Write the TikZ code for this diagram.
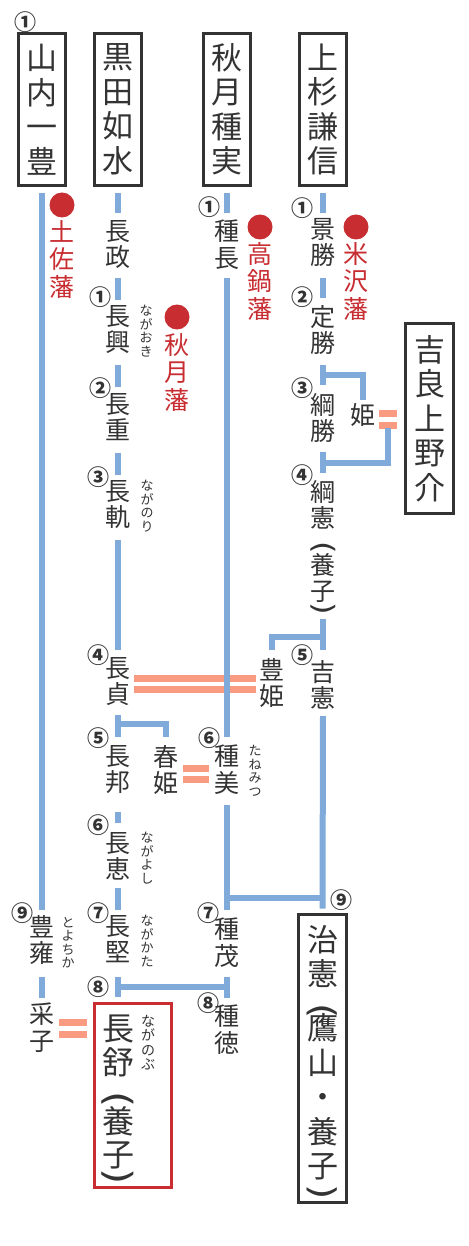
\documentclass[tikz,border=0pt]{standalone}
\usepackage{fontspec}
\usepackage{graphicx}
\newfontfamily\cjk{Noto Sans CJK JP}
\newfontfamily\djv{DejaVu Sans}
% vertical parentheses: #1 font size, #2 vertical shift
\newcommand\vpo[2]{\smash{\raisebox{#2}{\djv\fontsize{#1}{#1}\selectfont\rotatebox[origin=c]{-90}{\scalebox{1.15}[1]{(}}}}}
\newcommand\vpc[2]{\smash{\raisebox{#2}{\djv\fontsize{#1}{#1}\selectfont\rotatebox[origin=c]{-90}{\scalebox{1.15}[1]{)}}}}}
\definecolor{txt}{RGB}{51,51,51}
\definecolor{lblue}{RGB}{128,170,218}
\definecolor{lpink}{RGB}{248,155,128}
\definecolor{hred}{RGB}{200,45,50}
\begin{document}
\begin{tikzpicture}[x=1pt,y=-1pt,
 nm/.style={font=\cjk\fontsize{25}{26.5}\selectfont, text=txt, align=center, inner sep=0pt, anchor=north},
 big/.style={font=\cjk\fontsize{31}{34.5}\selectfont, text=txt, align=center, inner sep=0pt},
 bign/.style={font=\cjk\fontsize{32}{33.5}\selectfont, text=txt, align=center, inner sep=0pt, anchor=north},
 han/.style={font=\cjk\fontsize{25}{27.5}\selectfont, text=hred, align=center, inner sep=0pt, anchor=north},
 yomi/.style={font=\cjk\fontsize{13}{13.5}\selectfont, text=txt, align=center, inner sep=0pt, anchor=north},
 num/.style={font=\cjk\bfseries\fontsize{22}{22}\selectfont, text=txt, inner sep=0pt},
 kbox/.style={draw=txt, line width=3pt, inner sep=0pt, minimum width=47pt},
 rbx/.style={draw=hred, line width=3pt, inner sep=0pt},
 bl/.style={lblue, line width=6pt},
 pk/.style={lpink, line width=7pt},
 dot/.style={fill=hred}]
\useasboundingbox[fill=white] (0,0) rectangle (468,1246);

% top boxes
\node[kbox, big, minimum height=152pt] (yamauchi) at (42,109.5) {山\\内\\一\\豊};
\node[kbox, big, minimum height=152pt] (kuroda) at (118,109.5) {黒\\田\\如\\水};
\node[kbox, big, minimum height=152pt] (akizuki) at (227,109.5) {秋\\月\\種\\実};
\node[kbox, big, minimum height=152pt] (uesugi) at (323,109.5) {上\\杉\\謙\\信};
\node[kbox, big, minimum width=48pt, minimum height=190pt] (kira) at (429.5,418.5) {吉\\良\\上\\野\\介};
\node[kbox, minimum width=48pt, minimum height=288pt] (harubox) at (322.5,1058.5) {};
\node[big, anchor=north] (haruno) at (322.5,925) {治\\憲\\[-15pt]\vpo{34}{-16.3pt}\\鷹\\山\\・\\養\\子\\[-17.25pt]\vpc{34}{-7.5pt}};
\node[rbx, minimum width=77pt, minimum height=184pt] (rbox) at (133,1095.5) {};
\coordinate (rtop) at ([yshift=5.5pt]rbox.north);

% column 1
\node[nm] (toyo) at (42,915) {豊\\雍};
\node[nm] (uneko) at (42,1003) {采\\子};
% column 2
\node[nm] (masa) at (118,220) {長\\政};
\node[nm] (oki) at (118,305) {長\\興};
\node[nm] (shige) at (118,393) {長\\重};
\node[nm] (nori) at (118,480) {長\\軌};
\node[nm] (sada) at (118,657) {長\\貞};
\node[nm] (kuni) at (118,745) {長\\邦};
\node[nm] (yoshi) at (118,832) {長\\恵};
\node[nm] (kata) at (118,915) {長\\堅};
\node[bign] (nobu) at (118,1015) {長\\舒\\[-8.2pt]\vpo{36}{-10.9pt}\\養\\子\\[-16.75pt]\vpc{36}{-4.3pt}};
% column 3
\node[nm] (tnaga) at (227,220) {種\\長};
\node[nm] (tmitsu) at (227,745) {種\\美};
\node[nm] (tshige) at (227,918) {種\\茂};
\node[nm] (tnori) at (227,1005) {種\\徳};
% column 4
\node[nm] (kage) at (323,218) {景\\勝};
\node[nm] (sadak) at (323,305) {定\\勝};
\node[nm] (tsunak) at (323,393) {綱\\勝};
\node[nm] (tsunan) at (323,480) {綱\\憲\\[-6.5pt]\vpo{28}{-8.5pt}\\養\\子\\[-13.25pt]\vpc{28}{-3.2pt}};
\node[nm] (yoshin) at (323,660) {吉\\憲};
% wives
\node[nm] (toyohime) at (272,658) {豊\\姫};
\node[nm] (haruhime) at (166,745) {春\\姫};
\node[nm] (hime) at (363,403) {姫};

% readings
\node[yomi] (ynagaoki) at (146,305) {な\\が\\お\\き};
\node[yomi] (ynaganori) at (147,480) {な\\が\\の\\り};
\node[yomi] (ynagayoshi) at (147,832) {な\\が\\よ\\し};
\node[yomi] (ynagakata) at (147,915) {な\\が\\か\\た};
\node[yomi, font=\cjk\fontsize{14}{14.5}\selectfont] (ynaganobu) at (148,1015) {な\\が\\の\\ぶ};
\node[yomi] (ytanemitsu) at (255,745) {た\\ね\\み\\つ};
\node[yomi] (ytoyochika) at (68,917) {と\\よ\\ち\\か};

% domains
\fill[dot] (62,205) circle[radius=12.5pt];
\fill[dot] (260,227) circle[radius=12.5pt];
\fill[dot] (356,227) circle[radius=12.5pt];
\fill[dot] (177,317) circle[radius=12.5pt];
\node[han] (tosa) at (62,220) {土\\佐\\藩};
\node[han] (takanabe) at (260,242) {高\\鍋\\藩};
\node[han] (yonezawa) at (356,242) {米\\沢\\藩};
\node[han] (akizukihan) at (177,333) {秋\\月\\藩};

% marriages
\draw[pk] ([xshift=16pt,yshift=-21pt]sada.north) -- ([xshift=-16pt,yshift=-20pt]toyohime.north);
\draw[pk] ([xshift=16pt,yshift=-32pt]sada.north) -- ([xshift=-16pt,yshift=-31pt]toyohime.north);
\draw[pk] ([xshift=17pt,yshift=-23pt]haruhime.north) -- ([xshift=-18pt,yshift=-23pt]tmitsu.north);
\draw[pk] ([xshift=17pt,yshift=-34pt]haruhime.north) -- ([xshift=-18pt,yshift=-34pt]tmitsu.north);
\draw[pk] ([xshift=17pt,yshift=-19pt]uneko.north) -- ([xshift=-31pt,yshift=-7pt]nobu.north);
\draw[pk] ([xshift=17pt,yshift=-31pt]uneko.north) -- ([xshift=-31pt,yshift=-19pt]nobu.north);
\draw[pk] ([xshift=16pt,yshift=-10pt]hime.north) -- ([xshift=-7.5pt,yshift=5.5pt]kira.west);
\draw[pk] ([xshift=16pt,yshift=-22pt]hime.north) -- ([xshift=-7.5pt,yshift=-6.5pt]kira.west);

% lineage lines
\draw[bl] ([yshift=-6.5pt]yamauchi.south) -- ([yshift=5pt]toyo.north);
\draw[bl] ([yshift=-62pt]toyo.north) -- ([yshift=5pt]uneko.north);

\draw[bl] ([yshift=-6.5pt]kuroda.south) -- ([yshift=7pt]masa.north);
\draw[bl] ([yshift=-58pt]masa.north) -- ([yshift=5pt]oki.north);
\draw[bl] ([yshift=-60pt]oki.north) -- ([yshift=6pt]shige.north);
\draw[bl] ([yshift=-60pt]shige.north) -- ([yshift=5pt]nori.north);
\draw[bl] ([yshift=-60pt]nori.north) -- ([yshift=7pt]sada.north);
\draw[bl] ([yshift=-58pt]sada.north) -- ([yshift=8pt]kuni.north);
\draw[bl] ([yshift=-67pt]sada.north) -| ([yshift=8pt]haruhime.north);
\draw[bl] ([yshift=-67pt]kuni.north) -- ([yshift=9pt]yoshi.north);
\draw[bl] ([yshift=-56pt]yoshi.north) -- ([yshift=5pt]kata.north);
\draw[bl] ([yshift=-62pt]kata.north) -- (kata.north |- rtop);
\draw[bl] ([yshift=-72pt]kata.north) -- ([yshift=-69pt]tshige.north);

\draw[bl] ([yshift=-6.5pt]akizuki.south) -- ([yshift=7pt]tnaga.north);
\draw[bl] ([yshift=-58pt]tnaga.north) -- ([yshift=8pt]tmitsu.north);
\draw[bl] ([yshift=-60pt]tmitsu.north) -- ([yshift=8pt]tshige.north);
\draw[bl] ([yshift=-59pt]tshige.north) -- ([yshift=7pt]tnori.north);
\draw[bl] ([yshift=-153pt]tmitsu.north) -- ([yshift=-238pt]yoshin.north);

\draw[bl] ([yshift=-6.5pt]uesugi.south) -- ([yshift=5pt]kage.north);
\draw[bl] ([yshift=-60pt]kage.north) -- ([yshift=7pt]sadak.north);
\draw[bl] ([yshift=-60pt]sadak.north) -- ([yshift=8pt]tsunak.north);
\draw[bl] ([yshift=-70pt]sadak.north) -| ([yshift=3pt]hime.north);
\draw[bl] ([yshift=-59pt]tsunak.north) -- ([yshift=7pt]tsunan.north);
\draw[bl] ([yshift=-70pt]tsunak.north) -| ([xshift=-16.5pt,yshift=-9.5pt]kira.west);
\draw[bl] ([yshift=-139pt]tsunan.north) -- ([yshift=10pt]yoshin.north);
\draw[bl] ([yshift=-157pt]tsunan.north) -| ([yshift=8pt]toyohime.north);
\draw[bl] ([yshift=-56pt]yoshin.north) -- ([yshift=4.5pt]harubox.north);

% generation numbers
\node[num] (g0) at (25,22) {①};
\node[num] (k1) at (100,297) {①};
\node[num] (k2) at (100,388) {②};
\node[num] (k3) at (98,477) {③};
\node[num] (k4) at (98,655) {④};
\node[num] (k5) at (98,738) {⑤};
\node[num] (k6) at (98,825) {⑥};
\node[num] (k7) at (98,913) {⑦};
\node[num] (k8) at (98,987) {⑧};
\node[num] (a1) at (209,207) {①};
\node[num] (a6) at (209,738) {⑥};
\node[num] (a7) at (208,913) {⑦};
\node[num] (a8) at (208,1003) {⑧};
\node[num] (u1) at (302,208) {①};
\node[num] (u2) at (302,297) {②};
\node[num] (u3) at (302,388) {③};
\node[num] (u4) at (302,475) {④};
\node[num] (u5) at (302,655) {⑤};
\node[num] (u9) at (341,900) {⑨};
\node[num] (y9) at (22,913) {⑨};
\end{tikzpicture}
\end{document}
